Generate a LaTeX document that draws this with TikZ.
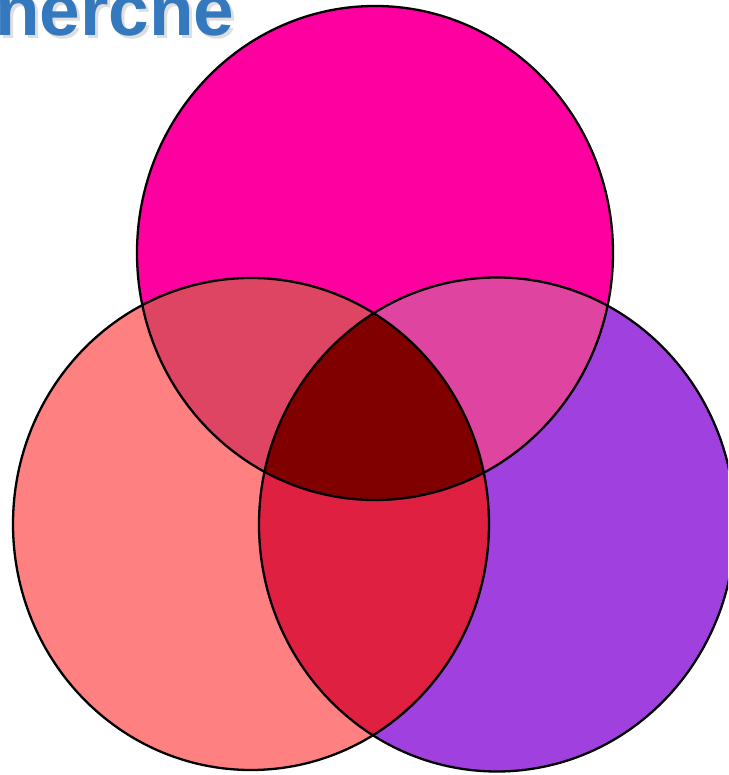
\documentclass[tikz,border=0pt]{standalone}
\usepackage{fontspec}
\setmainfont{Liberation Sans}
\definecolor{ctop}{RGB}{255,0,160}
\definecolor{cleft}{RGB}{255,128,128}
\definecolor{cright}{RGB}{159,64,223}
\definecolor{ctl}{RGB}{222,69,98}
\definecolor{ctr}{RGB}{223,68,160}
\definecolor{clr}{RGB}{223,32,64}
\definecolor{call}{RGB}{128,0,0}
\definecolor{titleblue}{RGB}{52,120,190}
\definecolor{titleshadow}{RGB}{222,222,222}
\tikzset{
  outline/.style={draw=black, line width=2.3pt},
  titletext/.style={font=\bfseries\fontsize{73}{73}\selectfont, inner sep=0pt, anchor=base west},
}
\def\topC{(375,522) ellipse [x radius=238, y radius=247]}
\def\leftC{(251,251) ellipse [x radius=238, y radius=246]}
\def\rightC{(497,250.5) ellipse [x radius=238, y radius=247]}
\begin{document}
\begin{tikzpicture}[x=1pt,y=1pt]
\useasboundingbox (0,0) rectangle (728,775);
\clip (0,0) rectangle (728,775);
\fill[white] (0,0) rectangle (728,775);
% title
\node[titletext, text=titleshadow] (titleshadow) at (-2,736) {nercne};
\node[titletext, text=titleblue] (title) at (-5,739) {nercne};
% single regions
\fill[ctop] \topC;
\fill[cleft] \leftC;
\fill[cright] \rightC;
% pairwise
\begin{scope}\clip \topC; \fill[ctl] \leftC; \end{scope}
\begin{scope}\clip \topC; \fill[ctr] \rightC; \end{scope}
\begin{scope}\clip \leftC; \fill[clr] \rightC; \end{scope}
% triple
\begin{scope}\clip \topC; \clip \leftC; \fill[call] \rightC; \end{scope}
% outlines
\path[outline] \topC;
\path[outline] \leftC;
\path[outline] \rightC;
\end{tikzpicture}
\end{document}
